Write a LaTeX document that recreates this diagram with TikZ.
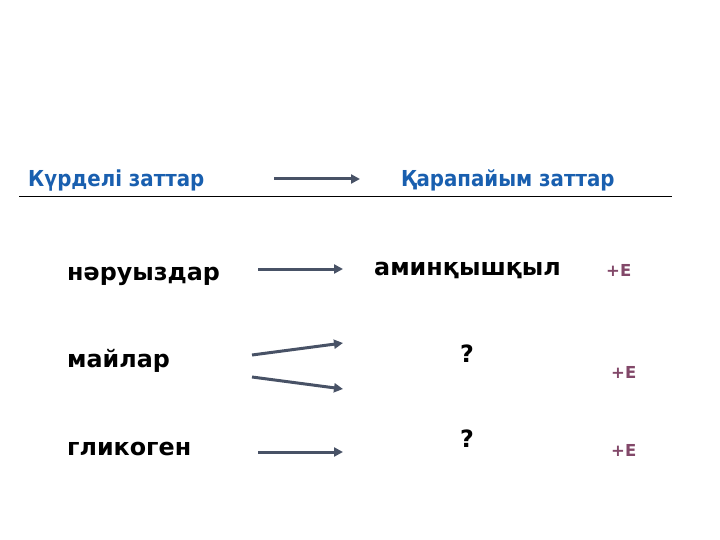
\documentclass[tikz,border=0pt]{standalone}
\usepackage{fontspec}
\setmainfont{DejaVu Sans}
\newfontfamily\condfont{DejaVu Sans Condensed}
\usetikzlibrary{arrows.meta}
\definecolor{hblue}{RGB}{25,95,175}
\definecolor{arr}{RGB}{72,82,102}
\definecolor{emag}{RGB}{130,72,105}
\tikzset{
  hdr/.style={font=\condfont\bfseries\fontsize{22}{24}\selectfont, text=hblue, inner sep=0pt},
  word/.style={font=\bfseries\fontsize{23.8}{26}\selectfont, inner sep=0pt},
  eterm/.style={font=\bfseries\fontsize{16.5}{18}\selectfont, text=emag, inner sep=0pt},
  conn/.style={draw=arr, line width=3pt, -{Triangle[length=9pt,width=9pt]}}
}
\begin{document}
\begin{tikzpicture}[x=1pt,y=-1pt]
\useasboundingbox (0,0) rectangle (720,540);
\node[hdr, anchor=base west] (h1) at (28,187) {Күрделі заттар};
\node[hdr, anchor=base west] (h2) at (401,187) {Қарапайым заттар};
\coordinate (ha) at (274,179);
\coordinate (hb) at (360,179);
\draw[conn] (ha) -- (hb);
\coordinate (l1) at (19,197);
\coordinate (l2) at (672,197);
\draw[line width=1pt] (l1) -- (l2);

\node[word, anchor=base west] (n1) at (67,280) {нәруыздар};
\node[word, anchor=base west] (n2) at (67,367) {майлар};
\node[word, anchor=base west] (n3) at (67,455) {гликоген};

\node[word, anchor=base west] (p1) at (374,275) {аминқышқыл};
\node[word, anchor=base] (p2) at (467,362) {?};
\node[word, anchor=base] (p3) at (467,447) {?};

\node[eterm, anchor=base west] (e1) at (606,276) {+E};
\node[eterm, anchor=base west] (e2) at (611,378) {+E};
\node[eterm, anchor=base west] (e3) at (611,456) {+E};

\coordinate (a1s) at (258,269); \coordinate (a1e) at (343,269);
\coordinate (a2s) at (252,355); \coordinate (a2e) at (343,343);
\coordinate (a3s) at (252,377); \coordinate (a3e) at (343,389);
\coordinate (a4s) at (258,452); \coordinate (a4e) at (343,452);
\draw[conn] (a1s) -- (a1e);
\draw[conn] (a2s) -- (a2e);
\draw[conn] (a3s) -- (a3e);
\draw[conn] (a4s) -- (a4e);
\end{tikzpicture}
\end{document}
